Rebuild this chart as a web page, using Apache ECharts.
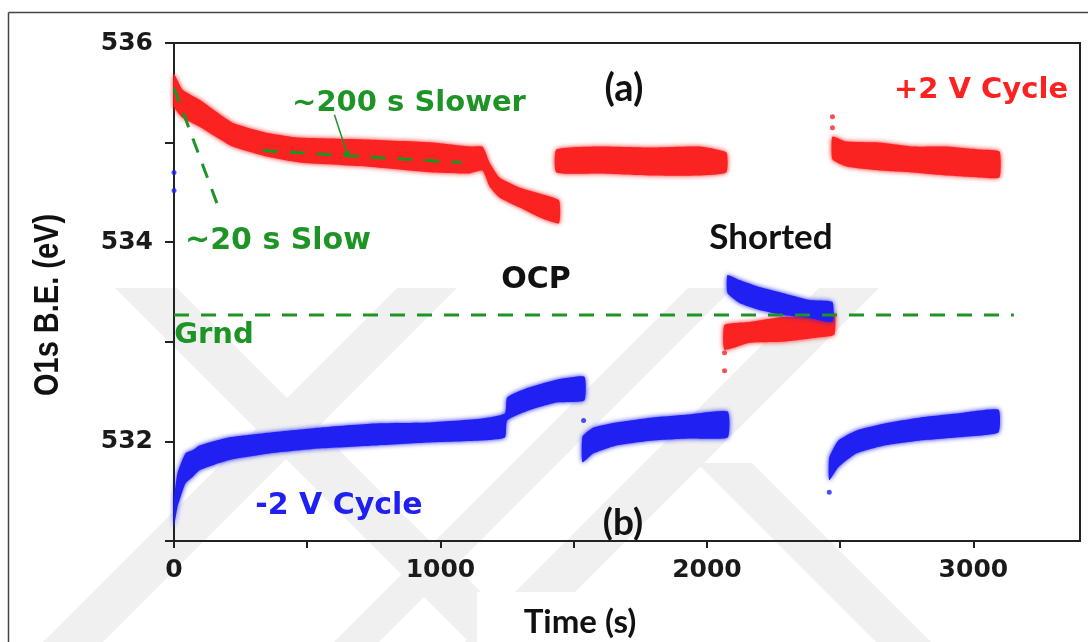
<!DOCTYPE html>
<html>
  <head>
    <meta charset="utf-8" />
    <title>O1s B.E. vs time</title>
    <script src="https://cdn.jsdelivr.net/npm/echarts@6/dist/echarts.min.js"></script>
    <style type="text/css">
      html, body { margin: 0; padding: 0; background: #fff; }
    </style>
  </head>
  <body>
    <div id="main" style="width: 1088px; height: 642px"></div>
    <script type="text/javascript">
      // band edges (lower / upper) of the dense point clouds
      var red1Time = [0, 32, 96, 220, 347, 471, 722, 970, 1109, 1158, 1184, 1221, 1296, 1371, 1445];
      var red1Low = [535.36, 535.25, 535.16, 534.96, 534.86, 534.80, 534.76, 534.70, 534.69, 534.72, 534.56, 534.45, 534.35, 534.25, 534.19];
      var red1High = [535.69, 535.53, 535.43, 535.20, 535.10, 535.05, 535.03, 535.00, 534.96, 534.96, 534.80, 534.65, 534.55, 534.49, 534.42];

      var red2Time = [1435, 1597, 1784, 1972, 2073];
      var red2Low = [534.70, 534.69, 534.67, 534.67, 534.70];
      var red2High = [534.93, 534.96, 534.95, 534.96, 534.90];

      var red3Time = [2066, 2160, 2284, 2411, 2478];
      var red3Low = [532.92, 532.99, 533.00, 533.04, 533.07];
      var red3High = [533.17, 533.20, 533.25, 533.25, 533.29];

      var red4Time = [2471, 2523, 2647, 2771, 2899, 3023, 3098];
      var red4Low = [534.83, 534.76, 534.72, 534.70, 534.67, 534.65, 534.65];
      var red4High = [535.06, 535.01, 535.00, 534.96, 534.96, 534.93, 534.91];

      var blue1Time = [0, 13, 43, 69, 96, 204, 363, 552, 752, 954, 1156, 1242, 1250, 1330, 1435, 1540];
      var blue1Low = [531.14, 531.34, 531.58, 531.64, 531.71, 531.81, 531.88, 531.93, 531.96, 531.99, 532.01, 532.04, 532.21, 532.31, 532.39, 532.41];
      var blue1High = [531.41, 531.68, 531.88, 531.91, 531.96, 532.04, 532.09, 532.14, 532.18, 532.19, 532.23, 532.28, 532.44, 532.54, 532.62, 532.65];

      var blue2Time = [1533, 1574, 1660, 1797, 1931, 2078];
      var blue2Low = [531.79, 531.88, 531.96, 532.01, 532.03, 532.04];
      var blue2High = [532.05, 532.14, 532.19, 532.24, 532.27, 532.30];

      var blue3Time = [2077, 2122, 2197, 2284, 2385, 2471];
      var blue3Low = [533.49, 533.39, 533.32, 533.27, 533.24, 533.20];
      var blue3High = [533.67, 533.62, 533.55, 533.49, 533.42, 533.40];

      var blue4Time = [2459, 2493, 2561, 2666, 2801, 2936, 3094];
      var blue4Low = [531.61, 531.74, 531.88, 531.96, 532.01, 532.04, 532.09];
      var blue4High = [531.84, 532.01, 532.11, 532.18, 532.24, 532.28, 532.32];

      // single stray points
      var redStrayTime = [2066, 2066, 2471, 2471];
      var redStrayValue = [532.89, 532.71, 535.26, 535.15];
      var blueStrayTime = [0, 0, 1537, 2459];
      var blueStrayValue = [534.70, 534.52, 532.21, 531.49];

      // green guide lines
      var groundLevel = 533.27;
      var groundEnd = 3152;
      var slowerTime = [333, 1079];
      var slowerValue = [534.92, 534.80];
      var slowTime = [0, 171];
      var slowValue = [535.55, 534.32];
      var arrowTime = [602, 651];
      var arrowValue = [535.28, 534.88];

      var xTicks = [0, 1000, 2000, 3000];
      var yTicks = [532, 534, 536];

      var RED = "#fb2222";
      var BLUE = "#2020f2";
      var GREEN = "#1f9426";
      var WM = "#f0f0f0";

      function pairs(xs, ys) {
        return xs.map(function (x, i) { return [x, ys[i]]; });
      }

      function band(name, times, lows, highs, color) {
        return {
          name: name,
          type: "custom",
          data: times.map(function (t, i) { return [t, lows[i], highs[i]]; }),
          encode: { x: 0, y: [1, 2] },
          renderItem: function (params, api) {
            if (params.dataIndex !== 0) return null;
            var top = [], bottom = [];
            for (var i = 0; i < times.length; i++) {
              top.push(api.coord([times[i], highs[i]]));
              bottom.unshift(api.coord([times[i], lows[i]]));
            }
            return {
              type: "polygon",
              shape: { points: top.concat(bottom), smooth: 0.15 },
              style: { fill: color, shadowBlur: 5, shadowColor: color }
            };
          }
        };
      }

      function guide(xs, ys) {
        return {
          type: "line",
          data: pairs(xs, ys),
          showSymbol: false,
          silent: true,
          z: 5,
          lineStyle: { color: GREEN, width: 3, type: [15, 12] }
        };
      }

      // light diagonal stripes of the page watermark (pixel space)
      function stripe(x0, y0, w, dir) {
        var y1 = 642, dx = (y1 - y0) * dir;
        return {
          type: "polygon",
          z: -1,
          silent: true,
          shape: { points: [[x0, y0], [x0 + w, y0], [x0 + w + dx, y1], [x0 + dx, y1]] },
          style: { fill: WM }
        };
      }

      var myChart = echarts.init(document.getElementById("main"));

      var labelFont = { fontFamily: "DejaVu Sans", fontWeight: "bold", fontSize: 25, color: "#1a1a1a" };

      function txt(text, x, y, font, color) {
        return {
          type: "text",
          x: x,
          y: y,
          z: 10,
          style: { text: text, font: font, fill: color, align: "center", verticalAlign: "middle" }
        };
      }

      var option = {
        animation: false,
        backgroundColor: "#ffffff",
        grid: { left: 174, right: 8, top: 43, bottom: 101, show: true, borderColor: "#222", borderWidth: 2 },
        xAxis: {
          type: "value",
          min: 0,
          max: 3400,
          interval: 500,
          splitLine: { show: false },
          axisLine: { lineStyle: { color: "#222", width: 2 } },
          axisTick: { inside: false, length: 7, lineStyle: { color: "#222", width: 2 } },
          axisLabel: Object.assign({
            margin: 17,
            showMaxLabel: false,
            formatter: function (v) { return xTicks.indexOf(v) >= 0 ? String(v) : ""; }
          }, labelFont)
        },
        yAxis: {
          type: "value",
          min: 531,
          max: 536,
          interval: 1,
          splitLine: { show: false },
          axisLine: { lineStyle: { color: "#222", width: 2 } },
          axisTick: { inside: false, length: 9, lineStyle: { color: "#222", width: 2 } },
          axisLabel: Object.assign({
            margin: 21,
            formatter: function (v) { return yTicks.indexOf(v) >= 0 ? String(v) : ""; }
          }, labelFont)
        },
        series: [
          band("+2 V 1", red1Time, red1Low, red1High, RED),
          band("+2 V 2", red2Time, red2Low, red2High, RED),
          band("+2 V 3", red3Time, red3Low, red3High, RED),
          band("+2 V 4", red4Time, red4Low, red4High, RED),
          band("-2 V 1", blue1Time, blue1Low, blue1High, BLUE),
          band("-2 V 2", blue2Time, blue2Low, blue2High, BLUE),
          band("-2 V 3", blue3Time, blue3Low, blue3High, BLUE),
          band("-2 V 4", blue4Time, blue4Low, blue4High, BLUE),
          {
            type: "scatter",
            data: pairs(redStrayTime, redStrayValue),
            symbolSize: 5,
            itemStyle: { color: RED }
          },
          {
            type: "scatter",
            data: pairs(blueStrayTime, blueStrayValue),
            symbolSize: 5,
            itemStyle: { color: BLUE }
          },
          Object.assign(guide([0, groundEnd], [groundLevel, groundLevel]), {
            markLine: {
              silent: true,
              symbol: ["none", "triangle"],
              symbolSize: 7,
              label: { show: false },
              lineStyle: { color: GREEN, width: 1.5, type: "solid" },
              data: [[{ coord: [arrowTime[0], arrowValue[0]] }, { coord: [arrowTime[1], arrowValue[1]] }]]
            }
          }),
          guide(slowerTime, slowerValue),
          guide(slowTime, slowValue)
        ],
        graphic: [
          stripe(115, 288, 62, 1),
          stripe(397, 288, 60, -1),
          stripe(688, 288, 45, -1),
          stripe(819, 288, 60, -1),
          stripe(697, 463, 55, 1),
          { type: "rect", z: -1, silent: true, shape: { x: 20, y: 162, width: 52, height: 251 }, style: { fill: "#fff" } },
          { type: "rect", z: -1, silent: true, shape: { x: 477, y: 592, width: 268, height: 50 }, style: { fill: "#fff" } },
          // frame of the original figure
          { type: "line", shape: { x1: 8.5, y1: 12.5, x2: 8.5, y2: 642 }, style: { stroke: "#444", lineWidth: 1.5 } },
          { type: "line", shape: { x1: 8.5, y1: 12.5, x2: 1088, y2: 12.5 }, style: { stroke: "#444", lineWidth: 1.5 } },
          {
            type: "text",
            x: 48,
            y: 305,
            z: 10,
            rotation: Math.PI / 2,
            scaleY: 1.2,
            style: {
              text: "O1s B.E. (eV)",
              font: 'bold 29px "Liberation Sans"',
              fill: "#111",
              align: "center",
              verticalAlign: "middle"
            }
          },
          txt("Time (s)", 580, 622, 'bold 33px Lato', "#111"),
          txt("(a)", 624, 89, 'bold 38px Lato', "#111"),
          txt("(b)", 623, 523, 'bold 37px Lato', "#111"),
          txt("+2 V Cycle", 981, 90, 'bold 29px "DejaVu Sans"', RED),
          txt("-2 V Cycle", 339, 506, 'bold 30px "DejaVu Sans"', BLUE),
          txt("~200 s Slower", 409, 103, 'bold 29px "DejaVu Sans"', GREEN),
          txt("~20 s Slow", 278, 241, 'bold 30px "DejaVu Sans"', GREEN),
          txt("Grnd", 214, 335, 'bold 29px "DejaVu Sans"', GREEN),
          txt("OCP", 536, 280, 'bold 30px "DejaVu Sans"', "#111"),
          txt("Shorted", 771, 238, 'bold 35px Lato', "#111")
        ]
      };

      myChart.setOption(option);
    </script>
  </body>
</html>
